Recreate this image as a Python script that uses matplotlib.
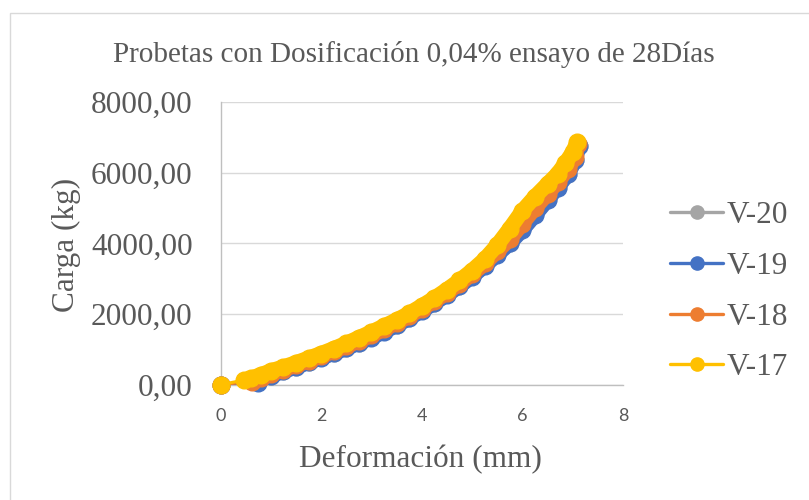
import matplotlib
matplotlib.use("Agg")
import matplotlib.pyplot as plt
from matplotlib.patches import Rectangle
from matplotlib.lines import Line2D
from matplotlib.ticker import FuncFormatter

# Data (deformación mm, carga kg)
v20_x = [0, 0.75, 1.0, 1.25, 1.5, 1.75, 2.0, 2.25, 2.5, 2.75, 3.0, 3.25, 3.5, 3.75, 4.0, 4.25, 4.5,
         4.75, 5.0, 5.25, 5.5, 5.75, 6.0, 6.25, 6.5, 6.7, 6.9, 7.05, 7.12]
v20_y = [0, 70, 260, 390, 510, 640, 770, 900, 1040, 1190, 1345, 1515, 1695, 1895, 2105, 2325, 2555,
         2805, 3075, 3375, 3695, 4020, 4400, 4820, 5250, 5600, 5970, 6370, 6760]

v19_x = [0, 0.75, 1.0, 1.25, 1.5, 1.75, 2.0, 2.25, 2.5, 2.75, 3.0, 3.25, 3.5, 3.75, 4.0, 4.25, 4.5,
         4.75, 5.0, 5.25, 5.5, 5.75, 6.0, 6.25, 6.5, 6.7, 6.9, 7.05, 7.12]
v19_y = [0, 60, 250, 380, 500, 630, 760, 890, 1030, 1180, 1330, 1500, 1680, 1880, 2090, 2310, 2540,
         2790, 3060, 3360, 3680, 4000, 4380, 4800, 5230, 5580, 5950, 6350, 6750]

v18_x = [0, 0.62, 0.8, 1.0, 1.25, 1.5, 1.75, 2.0, 2.25, 2.5, 2.75, 3.0, 3.25, 3.5, 3.75, 4.0, 4.25,
         4.5, 4.75, 5.0, 5.25, 5.5, 5.75, 6.0, 6.25, 6.5, 6.7, 6.9, 7.05, 7.1]
v18_y = [0, 90, 200, 310, 430, 550, 680, 810, 950, 1090, 1240, 1400, 1570, 1750, 1940, 2150, 2370,
         2600, 2860, 3130, 3430, 3780, 4120, 4560, 5000, 5400, 5740, 6090, 6450, 6800]

v17_x = [0, 0.46, 0.6, 0.8, 1.0, 1.25, 1.5, 1.75, 2.0, 2.25, 2.5, 2.75, 3.0, 3.25, 3.5, 3.75, 4.0,
         4.25, 4.5, 4.75, 5.0, 5.25, 5.5, 5.75, 6.0, 6.25, 6.5, 6.7, 6.85, 7.0, 7.09]
v17_y = [0, 130, 180, 280, 390, 500, 620, 750, 880, 1020, 1170, 1330, 1490, 1660, 1830, 2020, 2230,
         2450, 2690, 2950, 3230, 3550, 3950, 4420, 4920, 5320, 5680, 5970, 6260, 6580, 6870]

names = ["V-20", "V-19", "V-18", "V-17"]
colors = ["#A5A5A5", "#4472C4", "#ED7D31", "#FFC000"]
xs_all = [v20_x, v19_x, v18_x, v17_x]
ys_all = [v20_y, v19_y, v18_y, v17_y]

x_ticks = [0, 2, 4, 6, 8]
y_ticks = [0, 2000, 4000, 6000, 8000]

W, H = 809, 500
fig = plt.figure(figsize=(W / 100, H / 100), dpi=100)
fig.patches.append(Rectangle((10 / W, -0.01), 1.0, (H - 13) / H + 0.01, transform=fig.transFigure,
                             fill=False, edgecolor="#D9D9D9", linewidth=1.0))

L, R, T, B = 220.5, 623, 102, 384.7
ax = fig.add_axes([L / W, (H - B) / H, (R - L) / W, (B - T) / H])

serif = "Liberation Serif"
txt = "#595959"

for i, (xs, ys, c) in enumerate(zip(xs_all, ys_all, colors)):
    z = 3 + i
    ax.plot(xs[1:], ys[1:], color=c, linewidth=11, solid_capstyle="round",
            solid_joinstyle="round", zorder=z)
    ax.plot(xs[:2], ys[:2], color=c, linewidth=2.2, zorder=z)
    ax.plot(xs, ys, linestyle="none", marker="o", markersize=12, color=c, zorder=z,
            clip_on=False)

ax.set_xlim(0, 8)
ax.set_ylim(0, 8000)
ax.set_xticks(x_ticks)
ax.set_yticks(y_ticks)
ax.yaxis.set_major_formatter(FuncFormatter(lambda v, p: f"{v:.2f}".replace(".", ",")))
ax.grid(axis="y", color="#D9D9D9", linewidth=1.0, zorder=0)
ax.set_axisbelow(True)
for s in ["top", "right"]:
    ax.spines[s].set_visible(False)
for s in ["left", "bottom"]:
    ax.spines[s].set_color("#BFBFBF")
    ax.spines[s].set_linewidth(1.0)
ax.tick_params(length=0)
ax.tick_params(axis="y", pad=20, labelsize=22.5, labelcolor=txt)
ax.tick_params(axis="x", pad=17, labelsize=13, labelcolor=txt)
for lab in ax.get_yticklabels():
    lab.set_fontfamily(serif)
for lab in ax.get_xticklabels():
    lab.set_fontfamily("Lato")

# axis titles
fig.text(420 / W, 1 - 467 / H, "Deformación (mm)", ha="center", va="baseline",
         fontfamily=serif, fontsize=22.5, color=txt)
fig.text(66 / W, 1 - 245 / H, "Carga (kg)", ha="center", va="center", rotation=90,
         fontfamily=serif, fontsize=22.5, color=txt)

# chart title
fig.text(414 / W, 1 - 62 / H, "Probetas con Dosificación 0,04% ensayo de 28Días",
         ha="center", va="baseline", fontfamily=serif, fontsize=21, color=txt)

# legend (drawn in figure coordinates)
rows = [212, 263, 314, 364]
for name, c, ry in zip(names, colors, rows):
    yf = 1 - ry / H
    fig.add_artist(Line2D([670 / W, 723 / W], [yf, yf], transform=fig.transFigure,
                          color=c, linewidth=2.4, solid_capstyle="round"))
    fig.add_artist(Line2D([697 / W], [yf], transform=fig.transFigure, color=c,
                          marker="o", markersize=9.5, linestyle="none"))
    fig.text(727 / W, yf, name, ha="left", va="center_baseline", fontfamily=serif,
             fontsize=22.5, color=txt)

fig.savefig("out.png", dpi=100)
